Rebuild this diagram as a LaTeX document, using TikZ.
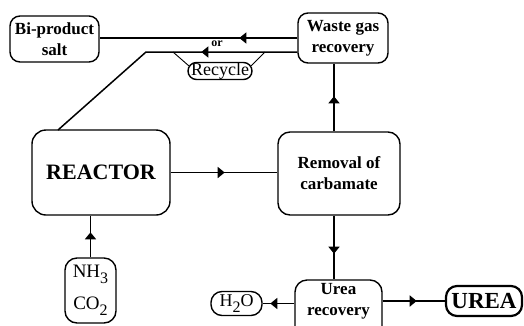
\documentclass[tikz,border=0pt]{standalone}
\usepackage{fontspec}
\setmainfont{Liberation Serif}
\usetikzlibrary{arrows.meta,decorations.markings}
\newcommand\lowsub[1]{\raisebox{-5.5pt}{\fontsize{16}{16}\selectfont #1}}
\begin{document}
\begin{tikzpicture}[x=1pt,y=-1pt,
  box/.style={draw, line width=1.4pt, rounded corners=#1, align=center, inner sep=0pt,
    font=\bfseries\fontsize{17}{21}\selectfont},
  box/.default=10pt,
  conn/.style={line width=1.5pt, line join=round},
  thinconn/.style={line width=0.9pt},
  arrowat/.style={postaction={decorate}, decoration={markings,
    mark=at position #1 with {\arrow{Triangle[length=7pt,width=11pt]}}}}
]
\clip (0,0) rectangle (524,325);
\fill[white] (0,0) rectangle (524,325);

\node[box=10pt, minimum width=89pt, minimum height=46pt] (salt) at (54.5,39) {Bi-product\\salt};
\node[box=10pt, minimum width=90pt, minimum height=50pt] (waste) at (343,38) {Waste gas\\recovery};
\node[draw, line width=1.4pt, rounded corners=8.5pt, minimum width=64pt, minimum height=17pt,
  inner sep=0pt, font=\fontsize{18}{18}\selectfont] (recycle) at (220,71) {Recycle};
\node[font=\bfseries\fontsize{12}{12}\selectfont, inner sep=0pt] (or) at (217,44) {or};
\node[box=14pt, minimum width=138pt, minimum height=85pt,
  font=\bfseries\fontsize{22}{26}\selectfont] (reactor) at (101,172.5) {REACTOR};
\node[box=12pt, minimum width=122pt, minimum height=83pt] (removal) at (339,173.5) {Removal of\\carbamate};
\node[box=12pt, minimum width=51pt, minimum height=65pt,
  font=\fontsize{19}{32}\selectfont] (nh3) at (90.5,290.5) {NH\lowsub{3}\\CO\lowsub{2}};
\node[box=11pt, minimum width=51pt, minimum height=24pt,
  font=\fontsize{18}{18}\selectfont] (h2o) at (236.5,303.5) {H\lowsub{2}O};
\node[box=12pt, minimum width=87pt, minimum height=60pt] (urearec) at (338.5,310) {};
\node[align=center, inner sep=0pt, font=\bfseries\fontsize{17}{21}\selectfont] (urearect) at (338.5,301) {Urea\\recovery};
\node[box=11pt, line width=2.2pt, minimum width=76pt, minimum height=30pt,
  font=\bfseries\fontsize{23}{26}\selectfont] (urea) at (484,301) {UREA};

\coordinate (bend) at (146,52);
\coordinate (rin) at (58,130);
\coordinate (rl) at (173,52);
\coordinate (rr) at (265,52);
\coordinate (vx) at (334,0);

\draw[conn, arrowat=58pt] (waste.west) -- (salt.east |- waste.west);
\draw[conn, arrowat=96pt] (waste.west |- bend) -- (bend) -- (rin);
\draw[thinconn] (rl) -- ([shift={(1.5pt,-4pt)}]recycle.north west);
\draw[thinconn] (rr) -- ([shift={(-1.5pt,-4pt)}]recycle.north east);
\draw[conn, arrowat=35pt] (removal.north -| vx) -- (waste.south -| vx);
\draw[conn, arrowat=54pt] (reactor.east) -- (removal.west |- reactor.east);
\draw[conn, arrowat=25pt] (nh3.north) -- (reactor.south -| nh3.north);
\draw[conn, arrowat=38pt] (removal.south -| vx) -- (urearec.north -| vx);
\draw[conn, arrowat=24pt] (urearec.west |- h2o.east) -- (h2o.east);
\draw[conn, line width=2.2pt, arrowat=34pt] (urearec.east |- urea.west) -- (urea.west);
\end{tikzpicture}
\end{document}
